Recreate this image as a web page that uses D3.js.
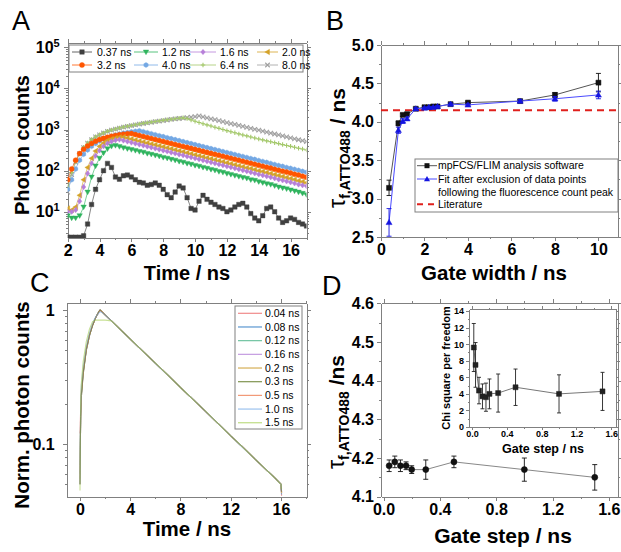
<!DOCTYPE html>
<html><head><meta charset="utf-8">
<script src="https://cdn.jsdelivr.net/npm/d3@7"></script>
<style>
body{margin:0;background:#fff}
svg{display:block}
text{font-family:"Liberation Sans",Arial,sans-serif;fill:#000}
.ax path,.ax line{stroke:#808080;stroke-width:1;shape-rendering:crispEdges}
.ax text{font-weight:bold}
</style>
</head><body>
<svg id="c" width="621" height="552"></svg>
<script>
// ---------------- DATA ----------------
// Panel A: photon counts vs time for different gate widths
const timeA = [2,2.25,2.5,2.75,3,3.25,3.5,3.75,4,4.25,4.5,4.75,5,5.25,5.5,5.75,6,6.25,6.5,6.75,7,7.25,7.5,7.75,8,8.25,8.5,8.75,9,9.25,9.5,9.75,10,10.25,10.5,10.75,11,11.25,11.5,11.75,12,12.25,12.5,12.75,13,13.25,13.5,13.75,14,14.25,14.5,14.75,15,15.25,15.5,15.75,16,16.25,16.5,16.75,17];
const gateLabelsA = ["0.37 ns","1.2 ns","1.6 ns","2.0 ns","3.2 ns","4.0 ns","6.4 ns","8.0 ns"];
const countsG037 = [2.4,2.4,2.4,2.4,2.6,5,15,35,60,100,150,120,70,62,75,78,70,60,52,50,44,46,50,44,35,26,22,30,42,38,22,12,11,18,25,20,17,15,13,12,10,11,13,15,16,13,9,7,6,8,12,13,10,7,5.5,6,7,6.5,5.5,5,4.5];
const countsG12 = [8,7,7,8,13,30,70,130,200,270,340,390,410,385,360,342,325,310,292,280,262,250,236,224,210,201,188,180,168,160,150,143,134,128,120,114,107,102,95,91,85,81,76,72,68,65,60,58,54,51,48,46,43,40,38,36,34,32,30,28,26];
const countsG16 = [10,10,11,18,40,85,150,230,310,390,460,510,550,570,540,512,483,458,432,410,387,367,346,328,310,294,277,263,248,236,222,211,199,189,178,169,159,151,142,135,127,121,114,108,102,97,91,86,81,77,73,69,65,61,58,55,52,49,46,44,42];
const countsG20 = [12,11,13,25,60,120,200,300,390,470,540,590,625,650,660,626,592,560,530,500,474,448,425,401,380,359,340,321,304,288,272,258,243,231,218,207,195,185,174,165,156,148,140,132,125,118,112,106,100,95,90,85,80,76,72,68,64,61,57,54,51];
const countsG32 = [60,110,180,260,330,400,460,520,570,610,650,690,720,750,770,790,800,757,716,677,641,606,573,542,513,485,459,434,411,389,368,348,329,311,294,278,263,249,236,223,211,200,189,179,169,160,151,143,135,128,121,115,108,102,97,92,87,82,78,73,69];
const countsG40 = [35,60,110,180,250,320,390,460,530,590,640,690,740,780,820,850,880,910,940,890,840,795,752,711,673,636,602,570,539,510,482,456,431,408,386,365,345,327,309,292,277,262,248,234,222,210,198,188,177,168,159,150,142,134,127,120,114,108,102,96,91];
const countsG64 = [40,90,165,265,370,470,570,665,750,830,905,975,1035,1095,1150,1200,1255,1310,1360,1415,1465,1520,1570,1625,1675,1730,1780,1830,1880,1930,1850,1720,1600,1490,1390,1300,1220,1140,1070,1000,940,885,835,785,740,700,660,625,590,560,530,505,480,455,430,410,390,370,352,335,318];
const countsG80 = [30,80,160,260,365,465,565,660,745,825,900,970,1030,1090,1145,1195,1250,1300,1350,1405,1455,1505,1555,1610,1660,1710,1760,1810,1860,1910,1960,2010,2060,2150,2040,1930,1830,1735,1645,1560,1480,1400,1330,1260,1195,1130,1075,1015,965,915,865,820,780,740,700,665,630,595,565,535,510];

// Panel B: lifetime vs gate width
const gateWidthB = [0.37,0.8,1.0,1.2,1.6,2.0,2.2,2.4,2.6,3.2,4.0,6.4,8.0,10.0];
const tauSoftwareB = [3.14,3.98,4.09,4.10,4.17,4.19,4.19,4.20,4.20,4.23,4.25,4.27,4.35,4.51];
const tauSoftwareErrB = [0.10,0.03,0.02,0.02,0.015,0.01,0.01,0.01,0.01,0.015,0.015,0.02,0.03,0.12];
const tauExclB = [2.69,3.89,4.01,4.04,4.17,4.18,4.19,4.19,4.20,4.23,4.22,4.27,4.30,4.35];
const tauExclErrB = [0.18,0.04,0.03,0.02,0.015,0.01,0.01,0.01,0.01,0.015,0.015,0.02,0.03,0.05];
const tauLiterature = 4.15;
const legendB = ["mpFCS/FLIM analysis software","Fit after exclusion of data points","following the fluorescence count peak","Literature"];

// Panel C: normalised decays for different gate steps
const timeC = [0,0.05,0.1,0.25,0.5,0.75,1,1.25,1.5,1.6,1.75,2,2.5,3,4,5,6,7,8,9,10,11,12,13,14,15,15.5,16,16.05];
const gateStepLabelsC = ["0.04 ns","0.08 ns","0.12 ns","0.16 ns","0.2 ns","0.3 ns","0.5 ns","1.0 ns","1.5 ns"];
const normC004 = [0.12,0.18,0.24,0.35,0.51,0.65,0.77,0.88,0.97,1.0,0.97,0.92,0.83,0.747,0.607,0.493,0.401,0.326,0.264,0.215,0.175,0.142,0.115,0.094,0.076,0.062,0.056,0.05,0.041];
const normC008 = [0.07,0.16,0.23,0.34,0.5,0.64,0.77,0.88,0.97,1.0,0.97,0.92,0.83,0.746,0.606,0.494,0.4,0.326,0.265,0.215,0.175,0.142,0.115,0.093,0.076,0.062,0.056,0.05,0.042];
const normC012 = [0.06,0.15,0.22,0.33,0.5,0.64,0.77,0.88,0.97,1.0,0.97,0.92,0.83,0.747,0.607,0.493,0.401,0.326,0.264,0.215,0.175,0.142,0.115,0.094,0.076,0.062,0.056,0.05,0.043];
const normC016 = [0.06,0.15,0.22,0.33,0.5,0.64,0.77,0.88,0.97,1.0,0.97,0.92,0.83,0.748,0.607,0.492,0.401,0.325,0.264,0.215,0.174,0.142,0.115,0.094,0.076,0.062,0.056,0.05,0.043];
const normC02 = [0.055,0.15,0.22,0.33,0.5,0.64,0.77,0.88,0.97,1.0,0.97,0.92,0.83,0.747,0.607,0.493,0.401,0.326,0.264,0.215,0.175,0.142,0.115,0.094,0.076,0.062,0.056,0.05,0.043];
const normC03 = [0.05,0.16,0.23,0.34,0.51,0.65,0.77,0.88,0.97,1.0,0.97,0.92,0.83,0.747,0.607,0.493,0.401,0.326,0.264,0.215,0.175,0.142,0.115,0.094,0.076,0.062,0.056,0.05,0.044];
const normC05 = [0.05,0.17,0.25,0.36,0.52,0.66,0.78,0.88,0.96,0.99,0.97,0.92,0.83,0.747,0.607,0.493,0.401,0.326,0.264,0.215,0.175,0.142,0.115,0.094,0.076,0.062,0.056,0.05,0.044];
const normC10 = [0.05,0.19,0.27,0.38,0.54,0.68,0.8,0.89,0.95,0.97,0.96,0.92,0.83,0.747,0.607,0.493,0.401,0.326,0.264,0.215,0.175,0.142,0.115,0.094,0.076,0.062,0.056,0.05,0.045];
const normC15 = [0.045,0.2,0.28,0.41,0.58,0.72,0.82,0.84,0.84,0.84,0.84,0.84,0.83,0.747,0.607,0.493,0.401,0.326,0.264,0.215,0.175,0.142,0.115,0.094,0.076,0.062,0.056,0.05,0.046];

// Panel D: lifetime vs gate step, inset chi square
const gateStepD = [0.04,0.08,0.12,0.16,0.2,0.3,0.5,1.0,1.5];
const tauD = [4.18,4.19,4.18,4.18,4.17,4.17,4.19,4.17,4.15];
const tauErrD = [0.015,0.015,0.015,0.01,0.01,0.025,0.015,0.03,0.033];
const gateStepInset = [0.02,0.04,0.08,0.12,0.16,0.2,0.3,0.5,1.0,1.5];
const chiInset = [9.6,7.5,4.4,3.7,3.6,4.0,4.1,4.8,4.0,4.3];
const chiErrInset = [2.9,2.7,1.6,1.5,1.7,1.8,2.3,2.2,2.3,2.3];

// ---------------- DRAWING ----------------
const svg = d3.select("#c");
const AXC = "#808080";

function axes(x, y, o) {
  const [xl, xr] = x.range(), [yb, yt] = y.range();
  const g = svg.append("g").attr("class","ax");
  const fs = o.fs || "16px";
  const ts = o.ts || 4, ms = o.ms || 2;
  if (o.xMinor) {
    g.append("g").attr("transform",`translate(0,${yb})`).call(d3.axisBottom(x).tickValues(o.xMinor).tickSize(ms).tickFormat("")).call(s=>s.select(".domain").remove());
    g.append("g").attr("transform",`translate(0,${yt})`).call(d3.axisTop(x).tickValues(o.xMinor).tickSize(ms).tickFormat("")).call(s=>s.select(".domain").remove());
  }
  if (o.yMinor) {
    g.append("g").attr("transform",`translate(${xl},0)`).call(d3.axisLeft(y).tickValues(o.yMinor).tickSize(ms).tickFormat("")).call(s=>s.select(".domain").remove());
    g.append("g").attr("transform",`translate(${xr},0)`).call(d3.axisRight(y).tickValues(o.yMinor).tickSize(ms).tickFormat("")).call(s=>s.select(".domain").remove());
  }
  const b = g.append("g").attr("transform",`translate(0,${yb})`)
    .call(d3.axisBottom(x).tickValues(o.xMajor).tickSize(ts).tickSizeOuter(0).tickPadding(o.xPad||3).tickFormat(o.xFmt));
  b.selectAll("text").style("font-size",fs);
  g.append("g").attr("transform",`translate(0,${yt})`)
    .call(d3.axisTop(x).tickValues(o.xMajor).tickSize(ts).tickSizeOuter(0).tickFormat(""));
  const l = g.append("g").attr("transform",`translate(${xl},0)`)
    .call(d3.axisLeft(y).tickValues(o.yMajor).tickSize(ts).tickSizeOuter(0).tickPadding(o.yPad||3).tickFormat(o.yFmt));
  l.selectAll("text").style("font-size",fs);
  g.append("g").attr("transform",`translate(${xr},0)`)
    .call(d3.axisRight(y).tickValues(o.yMajor).tickSize(ts).tickSizeOuter(0).tickFormat(""));
  return {b, l};
}

function panelLabel(txt, x, y) {
  svg.append("text").attr("x",x).attr("y",y).style("font-size","27px").text(txt);
}
function title(txt, x, y, rot, size) {
  const t = svg.append("text").attr("text-anchor","middle").style("font-size",size||"20px").style("font-weight","bold");
  if (rot) t.attr("transform",`translate(${x},${y}) rotate(-90)`).attr("dy","0.35em");
  else t.attr("x",x).attr("y",y);
  t.text(txt);
  return t;
}
function tauTitle(x, y, tail) {
  const t = svg.append("text").attr("text-anchor","middle")
    .attr("transform",`translate(${x},${y}) rotate(-90)`).attr("dy","0.35em")
    .style("font-weight","bold").style("font-size","21px");
  t.append("tspan").style("font-weight","normal").style("font-size","23px").text("τ");
  t.append("tspan").attr("dy","5").style("font-size","14px").text("f,ATTO488");
  t.append("tspan").attr("dy","-5").text(tail);
}

function symbolPath(type, s) {
  const h = s/2;
  switch(type) {
    case "square": return `M${-h},${-h}h${s}v${s}h${-s}Z`;
    case "tridown": return `M${-h*1.1},${-h*0.8}L${h*1.1},${-h*0.8}L0,${h*1.1}Z`;
    case "triup": return `M${-h*1.1},${h*0.8}L${h*1.1},${h*0.8}L0,${-h*1.1}Z`;
    case "trileft": return `M${h*0.8},${-h*1.1}L${h*0.8},${h*1.1}L${-h*1.1},0Z`;
    case "diamond": return `M0,${-h*1.2}L${h},0L0,${h*1.2}L${-h},0Z`;
    case "circle": return d3.symbol(d3.symbolCircle, s*s*0.8)();
    case "hex": { let p=""; for(let i=0;i<6;i++){const a=Math.PI/3*i+Math.PI/6; p+=(i?"L":"M")+(h*Math.cos(a)).toFixed(2)+","+(h*Math.sin(a)).toFixed(2);} return p+"Z"; }
    case "plus": return `M${-h},0L${h},0M0,${-h}L0,${h}`;
    case "x": return `M${-h},${-h}L${h},${h}M${-h},${h}L${h},${-h}`;
  }
}
const strokeOnly = m => m==="x"||m==="plus";

// ===== Panel A =====
const xA = d3.scaleLinear().domain([2,17]).range([67.7,306.5]);
const yA = d3.scaleLog().domain([Math.pow(10,0.36), Math.pow(10,5.1)]).range([238,43.3]);
const yMinorA = [];
[1,10,100,1000,10000].forEach(d=>{for(let k=2;k<=9;k++){const v=d*k; if(v>=yA.domain()[0]&&v<=yA.domain()[1]) yMinorA.push(v);}});
const axA = axes(xA, yA, {xMajor:[2,4,6,8,10,12,14,16], xMinor:[3,5,7,9,11,13,15,17], yMajor:[10,100,1000,10000,100000], yMinor:yMinorA, xFmt:d3.format("d"), yFmt:()=>"" , yPad:4});
axA.l.selectAll(".tick text").each(function(d){
  const t=d3.select(this); t.text("10");
  t.append("tspan").attr("dy","-0.55em").style("font-size","11px").text(Math.round(Math.log10(d)));
});

const seriesA = [
  {lab:gateLabelsA[7], v:countsG80, c:"#a0a0a0", m:"x", s:4.5},
  {lab:gateLabelsA[6], v:countsG64, c:"#a3c86a", m:"plus", s:4.5},
  {lab:gateLabelsA[5], v:countsG40, c:"#74a8e4", m:"hex", s:5},
  {lab:gateLabelsA[4], v:countsG32, c:"#ff5500", m:"circle", s:5},
  {lab:gateLabelsA[3], v:countsG20, c:"#d4a228", m:"trileft", s:5},
  {lab:gateLabelsA[2], v:countsG16, c:"#b67fd8", m:"diamond", s:4.5},
  {lab:gateLabelsA[1], v:countsG12, c:"#2fb45e", m:"tridown", s:5},
  {lab:gateLabelsA[0], v:countsG037, c:"#404040", m:"square", s:4.5}
];
svg.append("clipPath").attr("id","clipA").append("rect").attr("x",67.7).attr("y",43.3).attr("width",306.5-67.7).attr("height",238-43.3);
const gA = svg.append("g").attr("clip-path","url(#clipA)");
const lineA = d3.line().x((d,i)=>xA(timeA[i])).y(d=>yA(d));
seriesA.forEach(sr=>{
  gA.append("path").attr("d",lineA(sr.v)).attr("fill","none").attr("stroke",sr.c).attr("stroke-width",0.8).attr("opacity",0.8);
  gA.selectAll(null).data(sr.v).join("path")
    .attr("transform",(d,i)=>`translate(${xA(timeA[i])},${yA(d)})`)
    .attr("d",symbolPath(sr.m,sr.s))
    .attr("fill",strokeOnly(sr.m)?"none":sr.c).attr("stroke",sr.c).attr("stroke-width",strokeOnly(sr.m)?1.1:0.4);
});
// legend A
const legA = svg.append("g");
legA.append("rect").attr("x",69).attr("y",45).attr("width",234).attr("height",27).attr("fill","#fff").attr("stroke",AXC);
const legPosA = [[72,92,97],[134,158,162],[190,216,220],[257,278,282]];
[0,1,2,3,4,5,6,7].forEach((k,i)=>{
  const sr = seriesA[7-k];
  const col = i%4, row = Math.floor(i/4);
  const p = legPosA[col], yy = 52+row*13;
  legA.append("line").attr("x1",p[0]).attr("x2",p[1]).attr("y1",yy).attr("y2",yy).attr("stroke",sr.c).attr("stroke-width",0.8);
  legA.append("path").attr("transform",`translate(${(p[0]+p[1])/2},${yy})`).attr("d",symbolPath(sr.m,sr.s))
    .attr("fill",strokeOnly(sr.m)?"none":sr.c).attr("stroke",sr.c).attr("stroke-width",strokeOnly(sr.m)?1.1:0.4);
  legA.append("text").attr("x",p[2]).attr("y",yy).attr("dy","0.35em").style("font-size","10.5px").text(sr.lab);
});
panelLabel("A", 12, 30);
title("Photon counts", 22, 145, true, "20px");
title("Time / ns", 187, 280, false, "20px");

// ===== Panel B =====
const xB = d3.scaleLinear().domain([0,10.9]).range([381,618]);
const yB = d3.scaleLinear().domain([2.5,5.0]).range([237,45]);
axes(xB, yB, {xMajor:[0,2,4,6,8,10], xMinor:[1,3,5,7,9], yMajor:[2.5,3.0,3.5,4.0,4.5,5.0], yMinor:[2.75,3.25,3.75,4.25,4.75], xFmt:d3.format("d"), yFmt:d3.format(".1f")});
svg.append("clipPath").attr("id","clipB").append("rect").attr("x",381).attr("y",45).attr("width",237).attr("height",192);
const gB = svg.append("g").attr("clip-path","url(#clipB)");
gB.append("line").attr("x1",381).attr("x2",618).attr("y1",yB(tauLiterature)).attr("y2",yB(tauLiterature))
  .attr("stroke","#e0201c").attr("stroke-width",2).attr("stroke-dasharray","7,5");
function errSeries(g, xs, ys, es, x, y, col, lineCol, m, s, cap) {
  const ln = d3.line().x((d,i)=>x(xs[i])).y(d=>y(d));
  g.append("path").attr("d",ln(ys)).attr("fill","none").attr("stroke",lineCol).attr("stroke-width",1);
  xs.forEach((xv,i)=>{
    const cx=x(xv), y1=y(ys[i]-es[i]), y2=y(ys[i]+es[i]);
    g.append("line").attr("x1",cx).attr("x2",cx).attr("y1",y1).attr("y2",y2).attr("stroke",col).attr("stroke-width",0.9);
    g.append("line").attr("x1",cx-cap).attr("x2",cx+cap).attr("y1",y1).attr("y2",y1).attr("stroke",col).attr("stroke-width",0.9);
    g.append("line").attr("x1",cx-cap).attr("x2",cx+cap).attr("y1",y2).attr("y2",y2).attr("stroke",col).attr("stroke-width",0.9);
  });
  g.selectAll(null).data(ys).join("path").attr("transform",(d,i)=>`translate(${x(xs[i])},${y(d)})`)
    .attr("d",symbolPath(m,s)).attr("fill",col).attr("stroke",col).attr("stroke-width",0.5);
}
errSeries(gB, gateWidthB, tauSoftwareB, tauSoftwareErrB, xB, yB, "#111", "#555", "square", 5, 2.5);
errSeries(gB, gateWidthB, tauExclB, tauExclErrB, xB, yB, "#1414e0", "#4a4aff", "triup", 5.5, 2.5);
// legend B
const legB = svg.append("g");
legB.append("rect").attr("x",415).attr("y",159).attr("width",203).attr("height",53).attr("fill","#fff").attr("stroke",AXC);
[[165.7,"#111","#555","square",5],[179,"#1414e0","#4a4aff","triup",5.5]].forEach(r=>{
  legB.append("line").attr("x1",417).attr("x2",437).attr("y1",r[0]).attr("y2",r[0]).attr("stroke",r[2]).attr("stroke-width",1);
  legB.append("path").attr("transform",`translate(427,${r[0]})`).attr("d",symbolPath(r[3],r[4])).attr("fill",r[1]);
});
legB.append("line").attr("x1",417).attr("x2",437).attr("y1",204.3).attr("y2",204.3).attr("stroke","#e0201c").attr("stroke-width",2).attr("stroke-dasharray","6,5");
[165.7,179,192,204.3].forEach((yy,i)=>{
  legB.append("text").attr("x",438).attr("y",yy).attr("dy","0.35em").style("font-size","10.5px").text(legendB[i]);
});
panelLabel("B", 326, 30);
tauTitle(338, 148, " / ns");
title("Gate width / ns", 494, 280, false, "20.5px");

// ===== Panel C =====
const xC = d3.scaleLinear().domain([-1.06,18.05]).range([66.7,306.7]);
const yC = d3.scaleLog().domain([Math.pow(10,-1.3955), Math.pow(10,0.0522)]).range([497,303]);
axes(xC, yC, {xMajor:[0,4,8,12,16], xMinor:[2,6,10,14,18], yMajor:[0.1,1], yMinor:[0.05,0.06,0.07,0.08,0.09,0.2,0.3,0.4,0.5,0.6,0.7,0.8,0.9], xFmt:d3.format("d"), yFmt:d=>d===1?"1":"0.1", yPad:8});
const seriesC = [
  {v:normC004, c:"#f08a8a"},{v:normC008, c:"#5a96d0"},{v:normC012, c:"#6fc3a0"},
  {v:normC016, c:"#c49be0"},{v:normC02, c:"#d6ae55"},{v:normC03, c:"#7f9350"},
  {v:normC05, c:"#f29a78"},{v:normC10, c:"#9cc2ee"},{v:normC15, c:"#bedc84"}
];
svg.append("clipPath").attr("id","clipC").append("rect").attr("x",66.7).attr("y",303).attr("width",240).attr("height",194);
const gC = svg.append("g").attr("clip-path","url(#clipC)");
const lineC = d3.line().x((d,i)=>xC(timeC[i])).y(d=>yC(d));
seriesC.forEach(sr=>{
  gC.append("path").attr("d",lineC(sr.v)).attr("fill","none").attr("stroke",sr.c).attr("stroke-width",1.1).attr("opacity",0.85);
});
gC.append("path").attr("d",lineC(normC03)).attr("fill","none").attr("stroke","#5d6640").attr("stroke-width",0.9).attr("opacity",0.7);
const legC = svg.append("g");
legC.append("rect").attr("x",235).attr("y",306).attr("width",67).attr("height",123).attr("fill","#fff").attr("stroke",AXC);
seriesC.forEach((sr,i)=>{
  const yy = 313.3 + i*13.68;
  legC.append("line").attr("x1",238).attr("x2",262).attr("y1",yy).attr("y2",yy).attr("stroke",sr.c).attr("stroke-width",1.2);
  legC.append("text").attr("x",265).attr("y",yy).attr("dy","0.35em").style("font-size","10.5px").text(gateStepLabelsC[i]);
});
panelLabel("C", 30, 292);
title("Norm. photon counts", 22, 405, true, "20.5px");
title("Time / ns", 187, 536, false, "20.5px");

// ===== Panel D =====
const xD = d3.scaleLinear().domain([-0.018,1.665]).range([381,618]);
const yD = d3.scaleLinear().domain([4.1,4.6]).range([496.7,303.3]);
axes(xD, yD, {xMajor:[0,0.4,0.8,1.2,1.6], xMinor:[0.2,0.6,1.0,1.4], yMajor:[4.1,4.2,4.3,4.4,4.5,4.6], yMinor:[4.15,4.25,4.35,4.45,4.55], xFmt:d3.format(".1f"), yFmt:d3.format(".1f")});
const gD = svg.append("g");
errSeries(gD, gateStepD, tauD, tauErrD, xD, yD, "#111", "#888", "circle", 6, 2.5);
panelLabel("D", 322, 295);
tauTitle(337, 412, " /ns");
title("Gate step / ns", 503, 543, false, "21px");

// inset
const xI = d3.scaleLinear().domain([-0.035,1.655]).range([469,616]);
const yI = d3.scaleLinear().domain([0,14.25]).range([427,309]);
axes(xI, yI, {xMajor:[0,0.4,0.8,1.2,1.6], xMinor:[0.2,0.6,1.0,1.4], yMajor:[0,2,4,6,8,10,12,14], yMinor:[1,3,5,7,9,11,13], xFmt:d3.format(".1f"), yFmt:d3.format("d"), fs:"9px", xPad:1, yPad:2, ts:3, ms:1.5});
const gI = svg.append("g");
errSeries(gI, gateStepInset, chiInset, chiErrInset, xI, yI, "#222", "#777", "square", 5, 2);
title("Chi square per freedom", 446, 368, true, "11px");
title("Gate step / ns", 543, 453, false, "12.5px");
</script>
</body></html>
